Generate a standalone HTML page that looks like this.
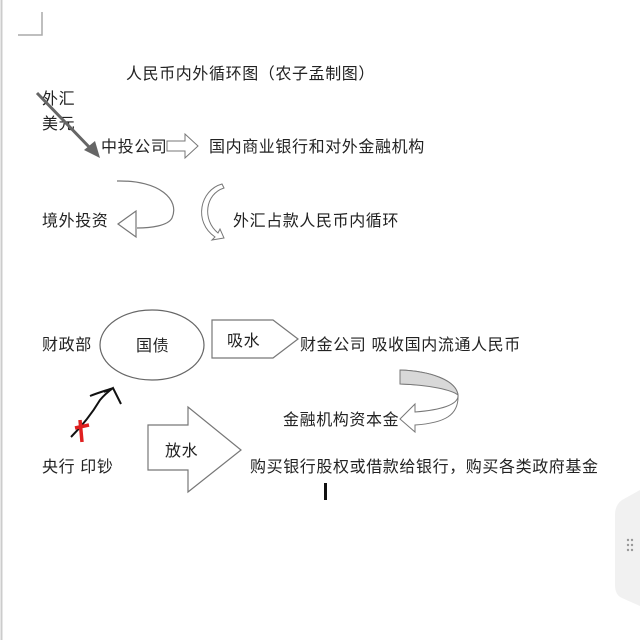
<!DOCTYPE html>
<html><head><meta charset="utf-8"><style>
html,body{margin:0;padding:0;background:#fff;}
svg{display:block}
text{font-family:"Liberation Sans","Noto Sans CJK SC",sans-serif;font-size:16px;fill:#222;letter-spacing:0.6px;}
</style></head><body>
<svg width="640" height="640" viewBox="0 0 640 640" xmlns="http://www.w3.org/2000/svg">
<rect width="640" height="640" fill="#fff"/>
<line x1="1.5" y1="0" x2="1.5" y2="640" stroke="#ccc" stroke-width="2"/>
<polyline points="18,35 42,35 42,12" fill="none" stroke="#aaa" stroke-width="1.5"/>
<path d="M640,490 L622,500 Q615,505 615,515 L615,585 Q615,595 622,598 L640,606 Z" fill="#f1f1f1"/>
<g fill="#999"><circle cx="628" cy="540" r="1.2"/><circle cx="632" cy="540" r="1.2"/><circle cx="628" cy="545" r="1.2"/><circle cx="632" cy="545" r="1.2"/><circle cx="628" cy="550" r="1.2"/><circle cx="632" cy="550" r="1.2"/></g>

<text x="126" y="79">人民币内外循环图（农子孟制图）</text>
<text x="42" y="104">外汇</text>
<text x="42" y="129">美元</text>
<line x1="37" y1="93" x2="92" y2="150" stroke="#666" stroke-width="3"/>
<polygon points="100,158 84,150 95,141" fill="#666"/>
<text x="101" y="152">中投公司</text>
<polygon points="167,141 185,141 185,134 198,146 185,158 185,151 167,151" fill="#fff" stroke="#777" stroke-width="1"/>
<text x="209" y="152">国内商业银行和对外金融机构</text>

<text x="42" y="226">境外投资</text>
<path d="M117,181 C160,180 180,200 172,218 C168,226 150,228 137,228" fill="none" stroke="#777" stroke-width="1.2"/>
<polygon points="118,224 136,211 136,237" fill="#fff" stroke="#777" stroke-width="1.2"/>
<path d="M222,184 C200,190 193,222 215,237 L212,240 L224,238 L220,229 L218,233 C202,220 205,194 224,188 Z" fill="#fff" stroke="#777" stroke-width="1"/>
<text x="233" y="226">外汇占款人民币内循环</text>

<text x="42" y="350">财政部</text>
<ellipse cx="152" cy="345" rx="52" ry="35" fill="#fff" stroke="#666" stroke-width="1.2"/>
<text x="136" y="351">国债</text>
<polygon points="212,320 273,320 298,339 273,358 212,358" fill="#fff" stroke="#777" stroke-width="1.2"/>
<text x="227" y="346">吸水</text>
<text x="300" y="350">财金公司 吸收国内流通人民币</text>

<path d="M400,370 C430,371 456,380 458,395 C459,405 440,410 415,412 L415,404 L400,419 L415,432 L415,425 C445,423 459,415 458,395 L458,395 C456,388 430,385 400,384 Z" fill="#fff" stroke="#777" stroke-width="1"/>
<path d="M400,370 C430,371 456,380 458,395 C452,390 430,385 400,384 Z" fill="#d8d8d8" stroke="#777" stroke-width="1"/>
<text x="283" y="425">金融机构资本金</text>

<path d="M71,437 Q88,420 100,400 Q105,394 113,388 L121,404 M113,388 L104,392 M90,396 C100,392 108,390 113,388" fill="none" stroke="#111" stroke-width="2"/>
<path d="M80,420 L82,442 M75,428 L89,425" stroke="#e02020" stroke-width="3.5" fill="none"/>

<polygon points="148,425 188,425 188,407 241,450 188,492 188,470 148,470" fill="#fff" stroke="#777" stroke-width="1.2"/>
<text x="165" y="456">放水</text>
<text x="42" y="472">央行 印钞</text>
<text x="250" y="472">购买银行股权或借款给银行，购买各类政府基金</text>
<rect x="324" y="483" width="3" height="17" fill="#111"/>
</svg>
</body></html>
